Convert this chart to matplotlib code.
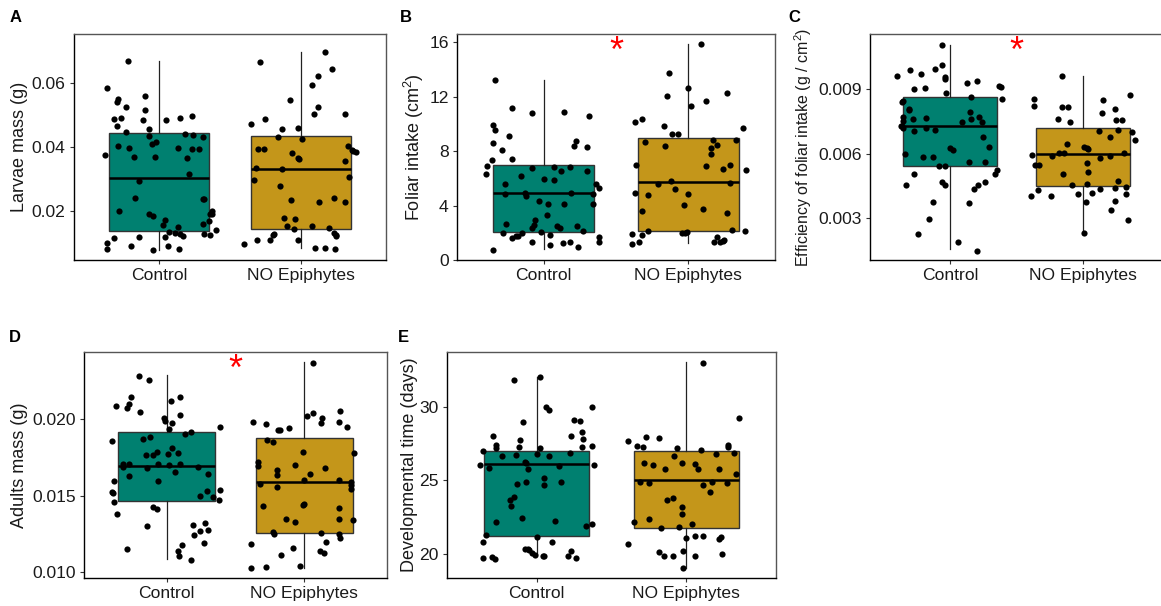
import matplotlib.pyplot as plt
import numpy as np

plt.rcParams['font.family'] = ['Liberation Sans', 'DejaVu Sans']
plt.rcParams['mathtext.fontset'] = 'custom'
plt.rcParams['mathtext.rm'] = 'Liberation Sans'
plt.rcParams['mathtext.it'] = 'Liberation Sans:italic'
plt.rcParams['mathtext.default'] = 'regular'

groups = ['Control', 'NO Epiphytes']
box_colors = ['#008070', '#C4961A']

# A - larvae mass (g)
larvae_ctrl = [0.0669, 0.0584, 0.0542, 0.0549, 0.0525, 0.0487, 0.0492, 0.0466, 0.0558, 0.0515,
               0.0483, 0.0457, 0.0446, 0.0376, 0.0404, 0.0396, 0.0370, 0.0434, 0.0409, 0.0416,
               0.0370, 0.0483, 0.0492, 0.0498, 0.0442, 0.0396, 0.0393, 0.0394, 0.0431, 0.0439,
               0.0365, 0.0315, 0.0294, 0.0241, 0.0199, 0.0190, 0.0186, 0.0171, 0.0156, 0.0136,
               0.0131, 0.0150, 0.0127, 0.0121, 0.0119, 0.0092, 0.0080, 0.0077, 0.0091, 0.0119,
               0.0116, 0.0099, 0.0081, 0.0237, 0.0237, 0.0200, 0.0192, 0.0190, 0.0168, 0.0159,
               0.0128, 0.0125, 0.0140]
larvae_ctrl_jit = [-0.22, -0.37, -0.30, -0.29, -0.23, -0.32, -0.27, -0.30, -0.10, -0.10,
                   -0.11, -0.07, -0.23, -0.38, -0.29, -0.21, -0.18, -0.07, -0.05, -0.02,
                   -0.03, 0.05, 0.15, 0.23, 0.18, 0.13, 0.23, 0.28, 0.31, 0.24,
                   0.20, 0.21, -0.14, -0.17, -0.28, -0.07, -0.04, 0.04, 0.03, 0.07,
                   0.11, 0.13, 0.15, 0.17, 0.04, 0.06, 0.14, -0.04, -0.20, -0.14,
                   -0.32, -0.37, -0.37, 0.31, 0.32, 0.37, 0.37, 0.36, 0.35, 0.31,
                   0.32, 0.36, 0.40]
larvae_noep = [0.0666, 0.0697, 0.0643, 0.0621, 0.0593, 0.0546, 0.0526, 0.0502, 0.0503, 0.0487,
               0.0471, 0.0455, 0.0460, 0.0424, 0.0430, 0.0393, 0.0393, 0.0381, 0.0366, 0.0361,
               0.0404, 0.0391, 0.0386, 0.0383, 0.0355, 0.0333, 0.0297, 0.0330, 0.0277, 0.0305,
               0.0234, 0.0229, 0.0240, 0.0229, 0.0178, 0.0152, 0.0175, 0.0143, 0.0152, 0.0147,
               0.0130, 0.0123, 0.0125, 0.0111, 0.0127, 0.0124, 0.0111, 0.0111, 0.0096, 0.0083,
               0.0085, 0.0080]
larvae_noep_jit = [-0.29, 0.17, 0.22, 0.12, 0.08, -0.08, 0.12, 0.09, 0.31, -0.25,
                   -0.35, -0.13, -0.02, 0.01, -0.16, -0.30, -0.26, -0.06, -0.02, -0.01,
                   0.33, 0.36, 0.37, 0.39, 0.31, -0.32, -0.33, -0.13, -0.15, 0.34,
                   -0.07, 0.13, 0.23, 0.31, -0.12, -0.10, -0.04, -0.05, 0.08, 0.20,
                   0.23, 0.25, 0.25, -0.02, -0.19, -0.20, -0.22, -0.31, -0.40, 0.10,
                   0.17, 0.24]
# q1, median, q3, whisker low, whisker high
larvae_box = [[0.0139, 0.0304, 0.0443, 0.0078, 0.0669],
              [0.0144, 0.0332, 0.0434, 0.0083, 0.0698]]

# B - foliar intake (cm2)
foliar_ctrl = [13.19, 11.20, 10.81, 10.86, 10.59, 9.93, 9.53, 8.60, 7.33, 8.06,
               9.14, 8.73, 8.41, 8.28, 6.94, 6.30, 7.40, 5.56, 4.83, 6.15,
               6.74, 6.81, 6.54, 6.81, 6.54, 5.96, 5.88, 4.90, 4.71, 5.61,
               5.29, 4.88, 4.93, 4.34, 4.09, 4.09, 4.14, 3.28, 2.92, 2.55,
               2.33, 2.62, 2.48, 2.38, 2.48, 2.11, 1.96, 1.96, 2.03, 1.64,
               1.74, 1.79, 1.84, 1.69, 1.30, 1.30, 1.10, 1.25, 1.30, 0.96,
               0.71]
foliar_ctrl_jit = [-0.34, -0.22, -0.08, 0.14, 0.31, -0.35, -0.34, -0.35, -0.36, -0.29,
                   -0.24, 0.22, 0.21, 0.30, -0.39, -0.40, -0.22, -0.27, -0.27, -0.16,
                   -0.08, 0.07, 0.12, 0.18, 0.30, 0.00, 0.07, -0.13, -0.12, 0.36,
                   0.38, 0.34, 0.19, -0.03, 0.03, 0.14, 0.34, 0.02, -0.06, -0.07,
                   -0.08, -0.26, 0.09, 0.11, 0.23, 0.27, -0.28, -0.15, -0.02, -0.22,
                   -0.19, -0.18, 0.04, 0.38, 0.38, -0.08, 0.04, 0.13, 0.18, 0.24,
                   -0.35]
foliar_noep = [15.83, 13.77, 12.62, 12.03, 11.67, 12.23, 11.32, 10.39, 10.17, 9.85,
               9.22, 9.22, 9.73, 8.68, 8.36, 8.80, 8.46, 8.26, 8.85, 7.82,
               7.01, 7.01, 6.89, 6.69, 6.62, 5.81, 5.61, 5.69, 5.20, 4.75,
               4.88, 4.95, 4.02, 3.63, 3.75, 3.43, 2.21, 2.11, 2.11, 1.84,
               1.89, 1.99, 2.01, 2.03, 1.15, 1.30, 1.69, 1.30, 1.32, 1.42,
               1.50]
foliar_noep_jit = [0.09, -0.13, 0.00, -0.15, 0.12, 0.27, 0.02, -0.32, -0.37, -0.17,
                   -0.11, -0.07, 0.38, -0.30, -0.16, 0.17, 0.20, 0.16, 0.33, 0.16,
                   -0.36, 0.29, 0.12, 0.24, 0.40, -0.12, -0.21, 0.29, -0.09, -0.28,
                   0.00, -0.37, -0.03, -0.32, 0.10, 0.27, 0.30, 0.39, -0.28, -0.32,
                   -0.39, -0.04, -0.02, -0.01, -0.39, -0.34, 0.20, 0.18, 0.22, 0.24,
                   0.25]
foliar_box = [[2.03, 4.93, 6.96, 0.78, 13.21],
              [2.16, 5.76, 8.95, 1.23, 15.86]]

# C - efficiency of foliar intake (g/cm2)
eff_ctrl = [0.01108, 0.01011, 0.00958, 0.00950, 0.00989, 0.00969, 0.00994, 0.00960, 0.00901, 0.00908,
            0.00881, 0.00927, 0.00940, 0.00916, 0.00912, 0.00853, 0.00862, 0.00846, 0.00843, 0.00809,
            0.00802, 0.00769, 0.00753, 0.00730, 0.00730, 0.00719, 0.00764, 0.00767, 0.00705, 0.00721,
            0.00710, 0.00750, 0.00794, 0.00763, 0.00772, 0.00747, 0.00633, 0.00676, 0.00626, 0.00617,
            0.00600, 0.00586, 0.00583, 0.00561, 0.00561, 0.00544, 0.00541, 0.00524, 0.00504, 0.00504,
            0.00453, 0.00468, 0.00453, 0.00468, 0.00453, 0.00437, 0.00377, 0.00369, 0.00296, 0.00225,
            0.00188, 0.00150]
eff_ctrl_jit = [-0.06, -0.06, -0.04, -0.04, -0.30, -0.22, -0.11, -0.40, -0.27, -0.19,
                -0.03, 0.13, 0.20, 0.37, 0.38, 0.39, 0.16, -0.35, -0.36, -0.31,
                -0.31, -0.35, -0.35, -0.37, -0.36, -0.35, -0.28, -0.18, -0.27, -0.18,
                -0.11, 0.09, 0.15, 0.16, 0.22, 0.24, 0.29, 0.25, 0.00, 0.02,
                -0.34, -0.20, -0.13, 0.14, 0.26, -0.08, -0.04, 0.35, 0.34, -0.27,
                -0.33, -0.06, -0.04, 0.26, 0.21, 0.18, -0.13, 0.14, -0.16, -0.24,
                0.06, 0.20]
eff_noep = [0.00960, 0.00854, 0.00822, 0.00817, 0.00817, 0.00848, 0.00871, 0.00806, 0.00760, 0.00750,
            0.00789, 0.00755, 0.00755, 0.00709, 0.00705, 0.00678, 0.00699, 0.00662, 0.00645, 0.00631,
            0.00623, 0.00628, 0.00605, 0.00602, 0.00591, 0.00594, 0.00549, 0.00549, 0.00433, 0.00402,
            0.00402, 0.00504, 0.00557, 0.00515, 0.00580, 0.00591, 0.00602, 0.00474, 0.00440, 0.00447,
            0.00436, 0.00419, 0.00454, 0.00411, 0.00459, 0.00377, 0.00381, 0.00340, 0.00411, 0.00293,
            0.00231]
eff_noep_jit = [-0.16, -0.37, -0.37, -0.16, -0.11, 0.15, 0.35, 0.24, -0.19, -0.10,
                0.14, 0.25, 0.29, 0.26, 0.12, 0.20, 0.37, 0.39, -0.12, 0.01,
                0.04, 0.03, -0.14, -0.18, -0.23, -0.38, -0.36, -0.33, -0.34, -0.39,
                -0.24, -0.15, 0.03, 0.04, 0.13, 0.20, 0.31, 0.26, 0.24, 0.32,
                0.13, 0.07, -0.08, -0.04, 0.03, 0.02, 0.24, 0.21, 0.32, 0.34,
                0.01]
eff_box = [[0.00541, 0.00727, 0.00862, 0.00155, 0.01108],
           [0.00448, 0.00597, 0.00718, 0.00230, 0.00960]]

# D - adults mass (g)
adult_ctrl = [0.02280, 0.02257, 0.02146, 0.02100, 0.02070, 0.02087, 0.02046, 0.02141, 0.02117, 0.02026,
              0.02007, 0.01989, 0.01974, 0.01935, 0.01904, 0.01915, 0.01946, 0.01857, 0.01870, 0.01883,
              0.01763, 0.01767, 0.01785, 0.01772, 0.01776, 0.01809, 0.01709, 0.01685, 0.01709, 0.01680,
              0.01707, 0.01700, 0.01709, 0.01685, 0.01652, 0.01630, 0.01598, 0.01598, 0.01641, 0.01522,
              0.01515, 0.01457, 0.01380, 0.01428, 0.01411, 0.01498, 0.01528, 0.01493, 0.01539, 0.01470,
              0.01304, 0.01311, 0.01320, 0.01270, 0.01276, 0.01246, 0.01191, 0.01180, 0.01141, 0.01109,
              0.01080, 0.01152]
adult_ctrl_jit = [-0.20, -0.13, -0.26, -0.27, -0.29, -0.37, -0.19, 0.10, 0.03, 0.10,
                  -0.02, -0.01, 0.04, 0.02, 0.13, 0.18, 0.39, -0.40, -0.17, -0.12,
                  -0.15, -0.10, -0.07, 0.01, 0.08, 0.04, -0.32, -0.32, -0.27, -0.14,
                  -0.06, 0.02, 0.10, 0.23, 0.06, -0.27, -0.06, -0.38, 0.30, -0.40,
                  -0.39, -0.38, -0.36, -0.10, -0.07, 0.24, 0.29, 0.34, 0.39, 0.38,
                  -0.14, 0.19, 0.28, 0.24, 0.30, 0.20, 0.27, 0.11, 0.08, 0.09,
                  0.18, -0.29]
adult_noep = [0.02363, 0.02052, 0.02041, 0.02007, 0.02022, 0.01978, 0.01976, 0.01980, 0.01970, 0.01928,
              0.01926, 0.01939, 0.01946, 0.01861, 0.01848, 0.01783, 0.01776, 0.01717, 0.01693, 0.01665,
              0.01637, 0.01700, 0.01641, 0.01680, 0.01604, 0.01589, 0.01567, 0.01543, 0.01578, 0.01559,
              0.01602, 0.01441, 0.01448, 0.01435, 0.01417, 0.01346, 0.01350, 0.01328, 0.01341, 0.01265,
              0.01250, 0.01259, 0.01198, 0.01250, 0.01222, 0.01187, 0.01157, 0.01115, 0.01139, 0.01128,
              0.01041, 0.01030, 0.01035]
adult_noep_jit = [0.06, 0.26, 0.06, 0.13, 0.02, 0.25, 0.12, -0.37, -0.28, -0.19,
                  -0.18, -0.11, 0.31, -0.27, -0.23, -0.01, 0.36, -0.34, -0.34, -0.20,
                  -0.20, -0.07, 0.04, 0.15, 0.25, 0.34, 0.34, 0.34, -0.32, -0.20,
                  0.00, -0.01, 0.00, -0.30, 0.25, 0.25, -0.13, -0.07, 0.35, -0.23,
                  -0.22, 0.12, 0.16, 0.25, 0.26, -0.39, -0.08, -0.17, 0.11, 0.14,
                  -0.03, -0.39, -0.28]
adult_box = [[0.01463, 0.01696, 0.01913, 0.01085, 0.02287],
             [0.01257, 0.01589, 0.01874, 0.01030, 0.02370]]

# E - developmental time (days)
dev_ctrl = [32.05, 31.80, 29.97, 29.78, 30.01, 28.97, 29.08, 29.04, 27.99, 27.74,
            27.38, 27.22, 27.02, 27.27, 27.18, 27.99, 28.29, 27.79, 27.27, 27.34,
            26.66, 26.70, 26.81, 26.66, 26.88, 26.04, 25.86, 26.22, 26.18, 25.77,
            25.98, 26.04, 25.18, 24.68, 24.91, 24.75, 24.86, 23.87, 23.64, 23.25,
            22.41, 22.17, 22.23, 21.28, 21.92, 22.03, 21.12, 20.80, 20.80, 20.35,
            20.31, 20.24, 20.03, 19.94, 19.88, 19.88, 20.22, 19.88, 19.69, 19.69,
            19.76, 19.67]
dev_ctrl_jit = [0.02, -0.15, 0.06, 0.08, 0.37, -0.09, 0.25, 0.29, -0.29, -0.11,
                -0.27, -0.27, -0.36, -0.12, 0.02, 0.23, 0.30, 0.31, 0.30, 0.37,
                -0.23, -0.14, 0.00, 0.08, 0.22, -0.38, -0.32, -0.08, -0.07, -0.06,
                0.15, 0.38, 0.05, 0.05, 0.16, -0.13, -0.07, -0.15, -0.18, -0.17,
                -0.10, -0.27, 0.12, -0.34, 0.33, 0.37, 0.00, 0.10, -0.36, -0.08,
                -0.06, -0.05, -0.03, -0.01, 0.04, 0.05, 0.23, 0.21, 0.26, -0.36,
                -0.30, -0.28]
dev_noep = [32.96, 29.22, 27.68, 27.31, 27.27, 27.93, 27.86, 27.18, 27.06, 27.38,
            27.27, 26.84, 25.41, 26.68, 25.75, 26.20, 26.02, 26.20, 26.11, 25.79,
            24.91, 24.82, 26.75, 24.82, 25.79, 24.91, 24.68, 24.18, 23.64, 23.19,
            22.71, 23.80, 22.17, 22.35, 21.73, 21.83, 22.03, 21.21, 21.24, 21.03,
            21.17, 20.69, 21.05, 20.10, 19.83, 19.83, 20.19, 19.88, 20.01, 19.06]
dev_noep_jit = [0.11, 0.35, -0.39, -0.33, -0.29, -0.27, -0.18, -0.06, 0.10, 0.28,
                0.28, 0.32, 0.33, -0.08, -0.14, -0.03, -0.22, -0.28, 0.06, 0.08,
                -0.31, -0.25, 0.20, 0.27, 0.22, 0.17, 0.11, 0.16, -0.13, -0.03,
                -0.03, -0.09, -0.35, -0.25, -0.17, -0.05, 0.04, 0.06, 0.11, 0.22,
                0.23, -0.39, 0.00, -0.18, -0.15, -0.09, -0.02, 0.06, 0.24, -0.02]
dev_box = [[21.24, 26.07, 27.02, 19.97, 32.05],
           [21.73, 25.00, 27.02, 19.06, 33.05]]

W, H = 1161, 606

panels = [
    dict(letter='A', ylabel='Larvae mass (g)', px=(74, 34, 386, 260), ylim=(0.0047, 0.0753),
         yticks=[0.02, 0.04, 0.06], fmt='{:.2f}', pts=[(larvae_ctrl, larvae_ctrl_jit), (larvae_noep, larvae_noep_jit)],
         box=larvae_box, sig=False, lab_x=20, lab_size=13, lpos=(10, 18)),
    dict(letter='B', ylabel='Foliar intake (cm$^2$)', px=(457, 34, 775, 260), ylim=(0, 16.6),
         yticks=[0, 4, 8, 12, 16], fmt='{:.0f}', pts=[(foliar_ctrl, foliar_ctrl_jit), (foliar_noep, foliar_noep_jit)],
         box=foliar_box, sig=True, lab_x=414, lab_size=13, lpos=(400, 18)),
    dict(letter='C', ylabel='Efficiency of foliar intake (g / cm$^2$)', px=(870, 34, 1163, 260), ylim=(0.00106, 0.01157),
         yticks=[0.003, 0.006, 0.009], fmt='{:.3f}', pts=[(eff_ctrl, eff_ctrl_jit), (eff_noep, eff_noep_jit)],
         box=eff_box, sig=True, lab_x=803, lab_size=11.5, lpos=(788, 18)),
    dict(letter='D', ylabel='Adults mass (g)', px=(84, 352, 387, 578), ylim=(0.00963, 0.02437),
         yticks=[0.010, 0.015, 0.020], fmt='{:.3f}', pts=[(adult_ctrl, adult_ctrl_jit), (adult_noep, adult_noep_jit)],
         box=adult_box, sig=True, lab_x=20, lab_size=13, lpos=(9, 337)),
    dict(letter='E', ylabel='Developmental time (days)', px=(447, 352, 776, 578), ylim=(18.35, 33.72),
         yticks=[20, 25, 30], fmt='{:.0f}', pts=[(dev_ctrl, dev_ctrl_jit), (dev_noep, dev_noep_jit)],
         box=dev_box, sig=False, lab_x=410, lab_size=13, lpos=(398, 337)),
]

fig = plt.figure(figsize=(W / 100, H / 100), dpi=100)

for p in panels:
    x0, y0, x1, y1 = p['px']
    ax = fig.add_axes([x0 / W, 1 - y1 / H, (x1 - x0) / W, (y1 - y0) / H])

    stats = []
    for q1, med, q3, lo, hi in p['box']:
        stats.append(dict(q1=q1, med=med, q3=q3, whislo=lo, whishi=hi))
    bp = ax.bxp(stats, positions=[1, 2], widths=0.7, patch_artist=True, showfliers=False,
                showcaps=False,
                boxprops=dict(edgecolor='#333333', linewidth=1.0),
                medianprops=dict(color='black', linewidth=1.8),
                whiskerprops=dict(color='#222222', linewidth=0.9))
    for patch, c in zip(bp['boxes'], box_colors):
        patch.set_facecolor(c)

    for i, (vals, jit) in enumerate(p['pts']):
        xs = (i + 1) + np.array(jit)
        ax.scatter(xs, vals, s=20, color='black', linewidths=0, zorder=3)

    # significance star sits at the top of the data
    if p['sig']:
        top = max(max(b[4] for b in p['box']), max(max(v) for v, j in p['pts']))
        ax.annotate('*', (1.5, top), xytext=(0, -6), textcoords='offset points',
                    ha='center', va='center', color='red', fontsize=26)

    ax.set_xlim(0.4, 2.6)
    ax.set_ylim(*p['ylim'])
    ax.set_xticks([1, 2])
    ax.set_xticklabels(groups)
    ax.set_yticks(p['yticks'])
    ax.set_yticklabels([p['fmt'].format(v) for v in p['yticks']])
    ax.tick_params(labelsize=12.6, length=3, width=0.8, colors='#333333', labelcolor='#1a1a1a', pad=3)

    for side in ['left', 'bottom']:
        ax.spines[side].set_color('black')
        ax.spines[side].set_linewidth(1.0)
    for side in ['top', 'right']:
        ax.spines[side].set_color('#555555')
        ax.spines[side].set_linewidth(1.0)

    fig.text(p['lab_x'] / W, 1 - ((y0 + y1) / 2) / H, p['ylabel'], rotation=90,
             ha='center', va='center', fontsize=p['lab_size'], color='#1a1a1a')

    lx, ly = p['lpos']
    fig.text(lx / W, 1 - ly / H, p['letter'], ha='left', va='center', fontsize=12, fontweight='bold')

fig.savefig('out.png', dpi=100)
